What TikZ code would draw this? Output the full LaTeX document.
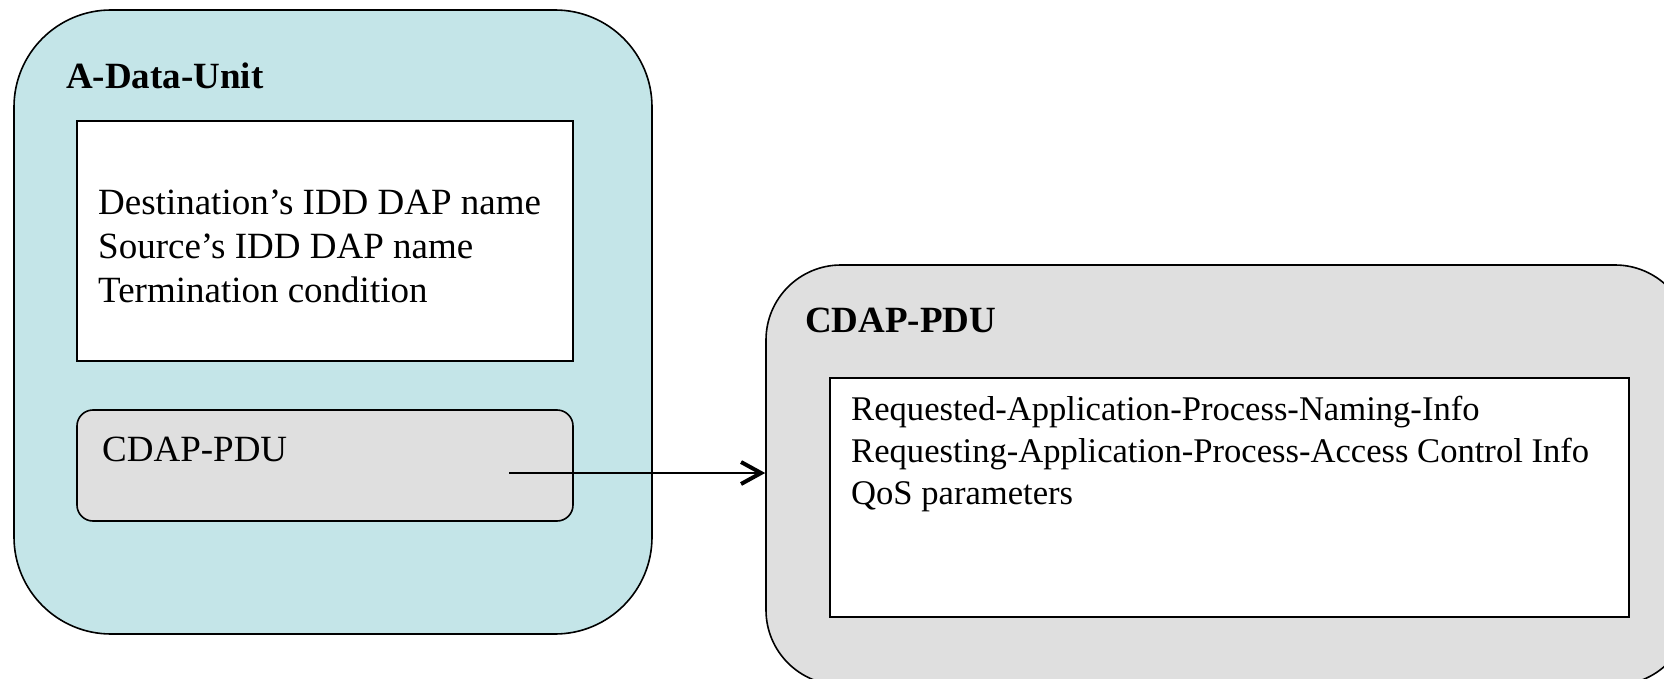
\documentclass[tikz,border=0pt]{standalone}
\usepackage{fontspec}
\setmainfont{Liberation Serif}
\usetikzlibrary{arrows.meta}
\definecolor{tealfill}{RGB}{196,229,232}
\definecolor{grayfill}{RGB}{223,223,223}
\tikzset{
  outer/.style={draw=black, line width=1.6pt, rounded corners=#1, inner sep=0pt},
  whitebox/.style={draw=black, line width=1.6pt, fill=white, inner sep=0pt},
  txt/.style={font=\fontsize{37}{44}\selectfont, inner sep=0pt, anchor=west, align=left},
  smalltxt/.style={font=\fontsize{34.6}{42}\selectfont, inner sep=0pt, anchor=west, align=left},
  btxt/.style={font=\fontsize{37}{44}\selectfont\bfseries, inner sep=0pt, anchor=west},
  link/.style={line width=1.8pt, -{Straight Barb[length=20pt,width=22pt,line width=4pt]}}
}
\begin{document}
\begin{tikzpicture}[x=1pt,y=-1pt]
\useasboundingbox (0,0) rectangle (1664,679);
\clip (0,0) rectangle (1664,679);
% left container
\node[outer=97pt, fill=tealfill, minimum width=638pt, minimum height=624pt] (adu) at (333,322) {};
\node[btxt] (adutitle) at (66,76) {A-Data-Unit};
\node[whitebox, minimum width=496pt, minimum height=240pt] (names) at (325,241) {};
\node[txt] (namestext) at (98,246) {Destination’s IDD DAP name\\Source’s IDD DAP name\\Termination condition};
\node[outer=16pt, fill=grayfill, minimum width=496pt, minimum height=111pt] (inner) at (325,465.5) {};
\node[txt] (innertext) at (102,449) {CDAP-PDU};
% right container
\node[outer=75pt, fill=grayfill, minimum width=924pt, minimum height=420pt] (pdu) at (1228,475) {};
\node[btxt] (pdutitle) at (805,320) {CDAP-PDU};
\node[whitebox, minimum width=799pt, minimum height=239pt] (info) at (1229.5,497.5) {};
\node[smalltxt] (infotext) at (851,454) {Requested-Application-Process-Naming-Info\\Requesting-Application-Process-Access Control Info\\QoS parameters};
% connector
\coordinate (start) at (509,473);
\draw[link] (start) -- (start -| pdu.west);
\end{tikzpicture}
\end{document}
